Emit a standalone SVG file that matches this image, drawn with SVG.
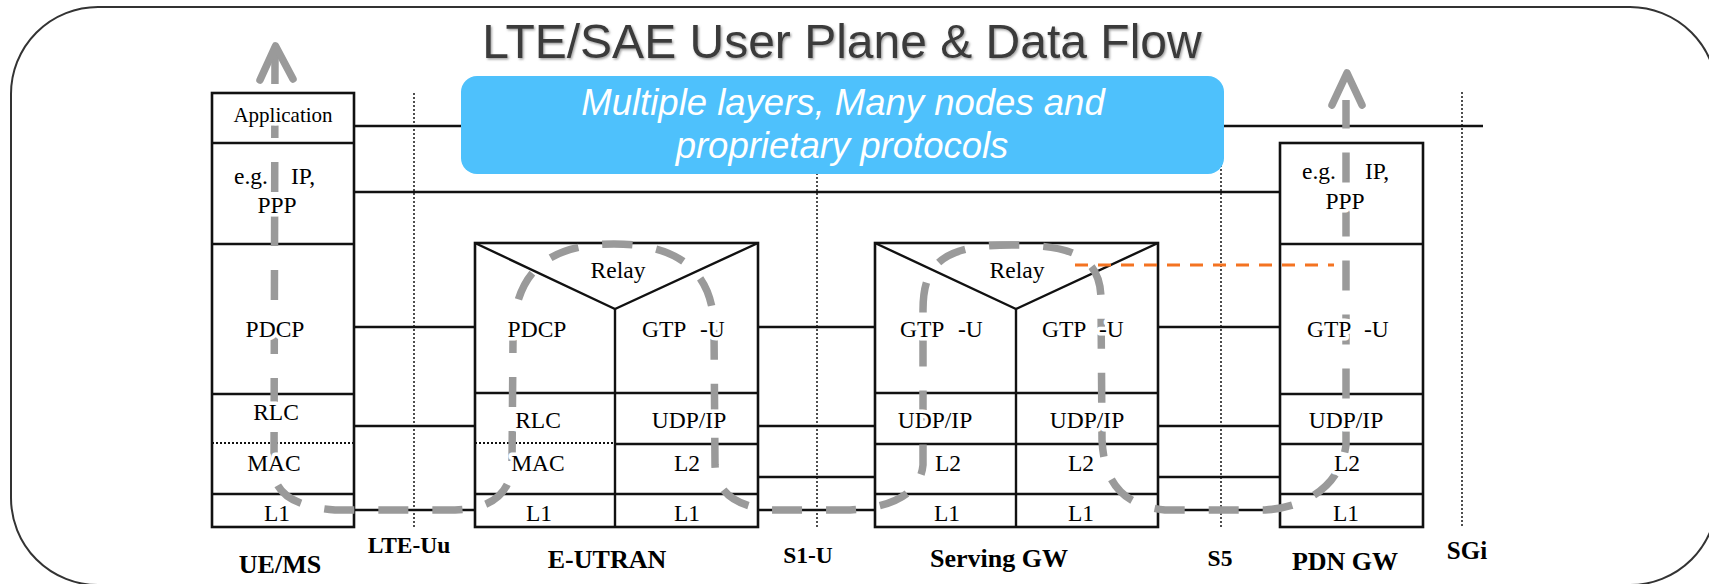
<svg xmlns="http://www.w3.org/2000/svg" width="1709" height="584" viewBox="0 0 1709 584">
<defs>
<style>
.frame{fill:none;stroke:#333;stroke-width:2}
.box{fill:#fff;stroke:#111;stroke-width:2.6}
.ln{stroke:#111;stroke-width:2.4;fill:none}
.dot{stroke:#111;stroke-width:2;stroke-dasharray:2 2;fill:none}
.vdot{stroke:#222;stroke-width:1.6;stroke-dasharray:2 2;fill:none}
.conn{stroke:#111;stroke-width:2.4;fill:none}
.t{font-family:"Liberation Serif","Times New Roman",serif;font-size:23.5px;fill:#000;stroke:#fff;stroke-width:7;stroke-linejoin:round;paint-order:stroke fill}
.m{text-anchor:middle}
.lab{font-family:"Liberation Serif","Times New Roman",serif;font-weight:bold;fill:#000;text-anchor:middle}
.flow{fill:none;stroke:#9a9a9a;stroke-width:7.5;stroke-dasharray:30 24}
.head{fill:none;stroke:#9a9a9a;stroke-width:7.5;stroke-linecap:round;stroke-linejoin:round}
.orange{fill:none;stroke:#f47321;stroke-width:3.2;stroke-dasharray:13 10}
</style>
<filter id="sh" x="-5%" y="-20%" width="110%" height="140%">
<feDropShadow dx="1.2" dy="1.5" stdDeviation="0.8" flood-color="#888" flood-opacity="0.8"/>
</filter>
</defs>
<rect class="frame" x="11" y="7" width="1706" height="578" rx="87" ry="87"/>
<text id="title" x="842" y="58" font-family="Liberation Sans, Arial, sans-serif" font-size="48" fill="#3a3a3a" text-anchor="middle" filter="url(#sh)">LTE/SAE User Plane &amp; Data Flow</text>

<g id="interfaces">
<line class="vdot" x1="414" y1="93" x2="414" y2="527"/>
<line class="vdot" x1="817" y1="93" x2="817" y2="527"/>
<line class="vdot" x1="1221" y1="93" x2="1221" y2="527"/>
<line class="vdot" x1="1462" y1="92" x2="1462" y2="527"/>
</g>

<g id="connectors">
<line class="conn" x1="354" y1="126" x2="1483" y2="126"/>
<line class="conn" x1="354" y1="192" x2="1280" y2="192"/>
<line class="conn" x1="354" y1="327" x2="475" y2="327"/>
<line class="conn" x1="354" y1="426" x2="475" y2="426"/>
<line class="conn" x1="354" y1="510" x2="475" y2="510"/>
<line class="conn" x1="758" y1="327" x2="877" y2="327"/>
<line class="conn" x1="758" y1="426" x2="875" y2="426"/>
<line class="conn" x1="758" y1="477" x2="875" y2="477"/>
<line class="conn" x1="758" y1="510" x2="875" y2="510"/>
<line class="conn" x1="1158" y1="327" x2="1280" y2="327"/>
<line class="conn" x1="1158" y1="426" x2="1280" y2="426"/>
<line class="conn" x1="1158" y1="477" x2="1280" y2="477"/>
<line class="conn" x1="1158" y1="510" x2="1280" y2="510"/>
</g>

<g id="note">
<rect x="461" y="76" width="763" height="98" rx="16" ry="16" fill="#4ec1fc"/>
<text x="843" y="115" font-family="Liberation Sans, Arial, sans-serif" font-size="36.5" font-style="italic" fill="#fff" text-anchor="middle">Multiple layers, Many nodes and</text>
<text x="842" y="158" font-family="Liberation Sans, Arial, sans-serif" font-size="36.5" font-style="italic" fill="#fff" text-anchor="middle">proprietary protocols</text>
</g>

<g id="ue">
<rect class="box" x="212" y="93" width="142" height="434"/>
<line class="ln" x1="212" y1="143" x2="354" y2="143"/>
<line class="ln" x1="212" y1="244" x2="354" y2="244"/>
<line class="ln" x1="212" y1="394" x2="354" y2="394"/>
<line class="dot" x1="212" y1="443" x2="354" y2="443"/>
<line class="ln" x1="212" y1="494" x2="354" y2="494"/>
</g>

<g id="enb">
<rect class="box" x="475" y="243" width="283" height="284"/>
<polyline class="ln" points="475,243 615,309 758,243"/>
<line class="ln" x1="615" y1="309" x2="615" y2="527"/>
<line class="ln" x1="475" y1="393" x2="758" y2="393"/>
<line class="dot" x1="475" y1="443" x2="615" y2="443"/>
<line class="ln" x1="615" y1="444" x2="758" y2="444"/>
<line class="ln" x1="475" y1="494" x2="758" y2="494"/>
</g>

<g id="sgw">
<rect class="box" x="875" y="243" width="283" height="284"/>
<polyline class="ln" points="875,243 1016,309 1158,243"/>
<line class="ln" x1="1016" y1="309" x2="1016" y2="527"/>
<line class="ln" x1="875" y1="393" x2="1158" y2="393"/>
<line class="ln" x1="875" y1="444" x2="1158" y2="444"/>
<line class="ln" x1="875" y1="494" x2="1158" y2="494"/>
</g>

<g id="pdngw">
<rect class="box" x="1280" y="143" width="143" height="384"/>
<line class="ln" x1="1280" y1="244" x2="1423" y2="244"/>
<line class="ln" x1="1280" y1="394" x2="1423" y2="394"/>
<line class="ln" x1="1280" y1="444" x2="1423" y2="444"/>
<line class="ln" x1="1280" y1="494" x2="1423" y2="494"/>
</g>

<g id="dataflow">
<path class="flow" d="M 275 54 L 274 470 C 274 494 296 507 335 510 L 455 510 C 490 509 510 495 512 465 L 513 340 C 513 270 550 244 614 244 C 670 244 714 265 714 330 L 715 465 C 716 492 735 506 770 510 L 850 510 C 885 508 920 497 923 465 L 923 310 C 923 262 945 245 1012 245 C 1070 245 1101 255 1101 300 L 1102 440 C 1104 480 1120 505 1165 510 L 1265 510 C 1300 508 1340 490 1346 445 L 1346 100"/>
<path class="head" d="M 260 80 L 275.5 46 L 293 79"/>
<path class="head" d="M 1332 105 L 1347 73 L 1362 105"/>
<line class="orange" x1="1075" y1="265" x2="1334" y2="265"/>
</g>

<g id="ue-text">
<text class="t m" x="283" y="122" style="font-size:21px">Application</text>
<text class="t" x="234" y="184">e.g. <tspan x="291">IP,</tspan></text>
<text class="t m" x="277" y="213">PPP</text>
<text class="t m" x="275" y="337">PDCP</text>
<text class="t m" x="276" y="420">RLC</text>
<text class="t m" x="274" y="471">MAC</text>
<text class="t m" x="277" y="521">L1</text>
</g>

<g id="enb-text">
<text class="t m" x="618" y="278">Relay</text>
<text class="t m" x="537" y="337">PDCP</text>
<text class="t" x="642" y="337">GTP <tspan x="700">-U</tspan></text>
<text class="t m" x="538" y="428">RLC</text>
<text class="t m" x="538" y="471">MAC</text>
<text class="t m" x="539" y="521">L1</text>
<text class="t m" x="689" y="428">UDP/IP</text>
<text class="t m" x="687" y="471">L2</text>
<text class="t m" x="687" y="521">L1</text>
</g>

<g id="sgw-text">
<text class="t m" x="1017" y="278">Relay</text>
<text class="t" x="900" y="337">GTP <tspan x="958">-U</tspan></text>
<text class="t" x="1042" y="337">GTP <tspan x="1099">-U</tspan></text>
<text class="t m" x="935" y="428">UDP/IP</text>
<text class="t m" x="1087" y="428">UDP/IP</text>
<text class="t m" x="948" y="471">L2</text>
<text class="t m" x="1081" y="471">L2</text>
<text class="t m" x="947" y="521">L1</text>
<text class="t m" x="1081" y="521">L1</text>
</g>

<g id="pdngw-text">
<text class="t" x="1302" y="179">e.g. <tspan x="1365">IP,</tspan></text>
<text class="t m" x="1345" y="209">PPP</text>
<text class="t" x="1307" y="337">GTP <tspan x="1364">-U</tspan></text>
<text class="t m" x="1346" y="428">UDP/IP</text>
<text class="t m" x="1347" y="471">L2</text>
<text class="t m" x="1346" y="521">L1</text>
</g>

<g id="labels">
<text class="lab" x="280" y="573" font-size="26">UE/MS</text>
<text class="lab" x="409" y="553" font-size="23.5">LTE-Uu</text>
<text class="lab" x="607" y="568" font-size="26">E-UTRAN</text>
<text class="lab" x="808" y="563" font-size="23.5">S1-U</text>
<text class="lab" x="999" y="567" font-size="26">Serving GW</text>
<text class="lab" x="1220" y="566" font-size="23.5">S5</text>
<text class="lab" x="1345" y="570" font-size="26">PDN GW</text>
<text class="lab" x="1467" y="559" font-size="25">SGi</text>
</g>
</svg>
